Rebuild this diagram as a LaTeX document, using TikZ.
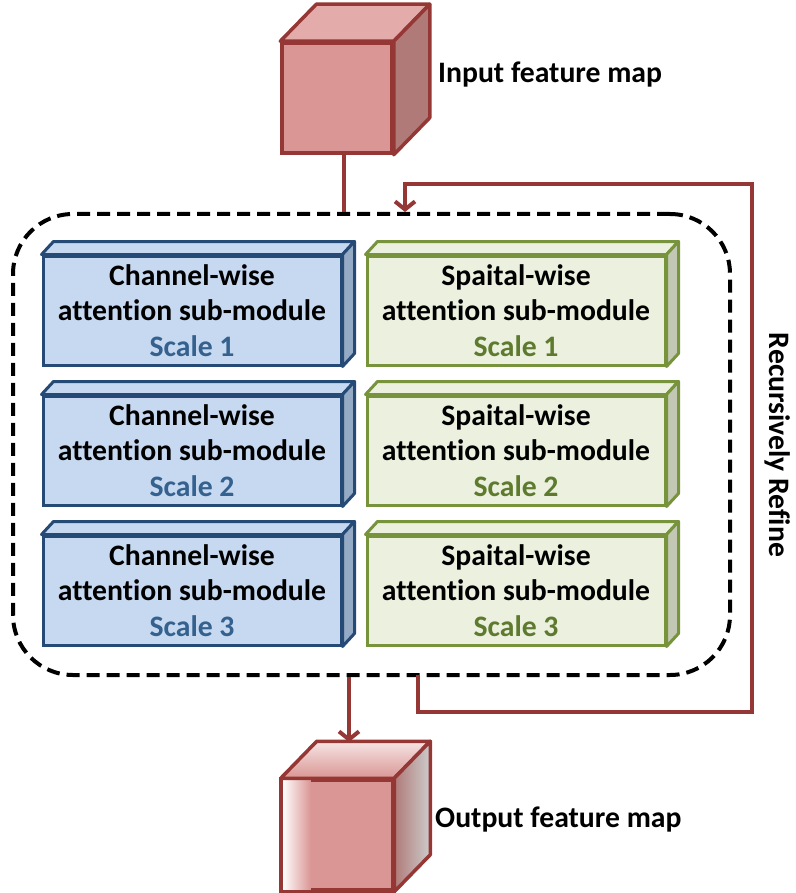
\documentclass[tikz,border=0pt]{standalone}
\usepackage{fontspec}
\setmainfont[Ligatures=NoCommon]{Carlito}
\usetikzlibrary{calc,arrows.meta}
\definecolor{cubefill}{HTML}{D99694}
\definecolor{cubetop}{HTML}{E3ACAA}
\definecolor{cubeside}{HTML}{B07A78}
\definecolor{cubeline}{HTML}{953735}
\definecolor{bluefill}{HTML}{C6D9F1}
\definecolor{blueline}{HTML}{254A75}
\definecolor{blueside}{HTML}{95AAC4}
\definecolor{bluetext}{HTML}{35618F}
\definecolor{greenfill}{HTML}{EBF1DE}
\definecolor{greenline}{HTML}{77933C}
\definecolor{greenside}{HTML}{C3C8B5}
\definecolor{greentext}{HTML}{5E7A2E}
\tikzset{
  lbl/.style={font=\fontsize{29.7}{35.5}\selectfont\bfseries, align=center, inner sep=0pt},
  bluebox/.style={lbl, draw=blueline, fill=bluefill, line width=3pt, minimum width=298pt, minimum height=109pt},
  greenbox/.style={lbl, draw=greenline, fill=greenfill, line width=3pt, minimum width=298pt, minimum height=109pt},
  cubefront/.style={draw=cubeline, fill=cubefill, line width=3.5pt, minimum width=110pt, minimum height=110pt, inner sep=0pt},
  redline/.style={draw=cubeline, line width=4pt},
  redarrow/.style={redline, -{Straight Barb[length=8pt,width=20pt]}},
  group/.style={draw=black, line width=4pt, dash pattern=on 13pt off 7pt, rounded corners=60pt, minimum width=717pt, minimum height=461pt, inner sep=0pt},
}
\newcommand{\boxface}[4]{%
  \draw[#4, line width=3pt, fill=#2, line join=round] (#1.north west) -- ++(12,-13) -- ($(#1.north east)+(12,-13)$) -- (#1.north east) -- cycle;
  \draw[#4, line width=3pt, fill=#3, line join=round] (#1.north east) -- ++(12,-13) -- ($(#1.south east)+(12,-13)$) -- (#1.south east) -- cycle;
}
\begin{document}
\begin{tikzpicture}[x=1pt,y=-1pt]
\useasboundingbox (0,0) rectangle (795,893);

% group
\node[group] (grp) at (371.5,444.5) {};

% input cube
\node[cubefront] (incube) at (337,98) {};
\draw[cubeline, line width=3.5pt, fill=cubetop, line join=round] (incube.north west) -- ++(36,-37) -- ($(incube.north east)+(36,-37)$) -- (incube.north east) -- cycle;
\draw[cubeline, line width=3.5pt, fill=cubeside, line join=round] (incube.north east) -- ++(36,-37) -- ($(incube.south east)+(36,-37)$) -- (incube.south east) -- cycle;
\node[lbl, anchor=west] (intext) at (438,75) {Input feature map};

% output cube
\node[cubefront] (outcube) at (337.5,835) {};
\shade[left color=white, right color=cubefill] ([shift={(1.5,-1.5)}]outcube.south west) rectangle ([shift={(30,1.5)}]outcube.north west);
\draw[cubeline, line width=3.5pt] (outcube.north west) rectangle (outcube.south east);
\shade[top color=cubefill!25, bottom color=cubefill] (outcube.north west) -- ++(36,-37) -- ($(outcube.north east)+(36,-37)$) -- (outcube.north east) -- cycle;
\draw[cubeline, line width=3.5pt, line join=round] (outcube.north west) -- ++(36,-37) -- ($(outcube.north east)+(36,-37)$) -- (outcube.north east) -- cycle;
\shade[left color=cubeside, right color=gray!40] (outcube.north east) -- ++(36,-37) -- ($(outcube.south east)+(36,-37)$) -- (outcube.south east) -- cycle;
\draw[cubeline, line width=3.5pt, line join=round] (outcube.north east) -- ++(36,-37) -- ($(outcube.south east)+(36,-37)$) -- (outcube.south east) -- cycle;
\node[lbl, anchor=west] (outtext) at (435,820) {Output feature map};

% boxes
\node[bluebox] (c1) at (192,310.5) {Channel-wise\\attention sub-module\\{\color{bluetext}Scale 1}};
\boxface{c1}{bluefill}{blueside}{blueline}
\node[bluebox] (c2) at (192,450.5) {Channel-wise\\attention sub-module\\{\color{bluetext}Scale 2}};
\boxface{c2}{bluefill}{blueside}{blueline}
\node[bluebox] (c3) at (192,590.5) {Channel-wise\\attention sub-module\\{\color{bluetext}Scale 3}};
\boxface{c3}{bluefill}{blueside}{blueline}
\node[greenbox] (s1) at (516,310.5) {Spaital-wise\\attention sub-module\\{\color{greentext}Scale 1}};
\boxface{s1}{greenfill}{greenside}{greenline}
\node[greenbox] (s2) at (516,450.5) {Spaital-wise\\attention sub-module\\{\color{greentext}Scale 2}};
\boxface{s2}{greenfill}{greenside}{greenline}
\node[greenbox] (s3) at (516,590.5) {Spaital-wise\\attention sub-module\\{\color{greentext}Scale 3}};
\boxface{s3}{greenfill}{greenside}{greenline}

% connectors
\draw[redline] ([xshift=7pt]incube.south) -- ([xshift=7pt]incube.south |- grp.north);
\coordinate (outtip) at (349,742);
\draw[redarrow] (grp.south -| outtip) -- (outtip);
\coordinate (fbout) at (418,675);
\coordinate (loopbot) at (752,712);
\coordinate (looptop) at (752,184);
\coordinate (fbin) at (405,214);
\draw[redarrow, line join=miter] (fbout) -- (fbout |- loopbot) -- (loopbot) -- (looptop) -- (fbin |- looptop) -- (fbin |- grp.north);
\node[lbl, rotate=-90] (rr) at (778,445) {Recursively Refine};
\end{tikzpicture}
\end{document}
